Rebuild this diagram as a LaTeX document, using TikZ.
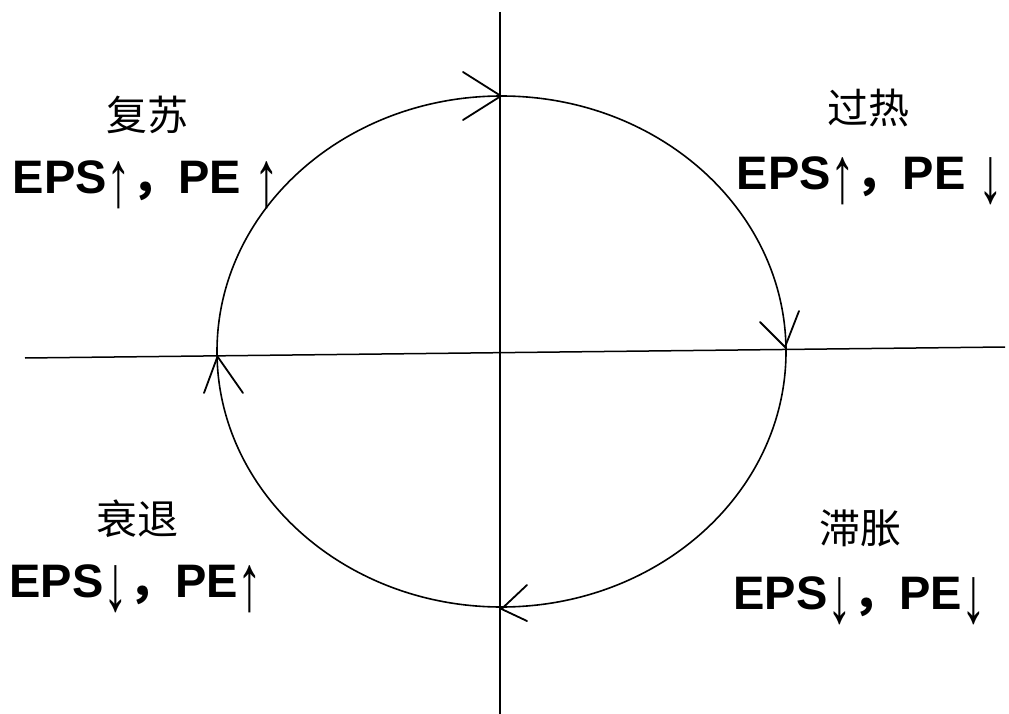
\documentclass[tikz,border=0pt]{standalone}
\usepackage{graphicx}
\usepackage{fontspec}
\setmainfont{Liberation Sans}
\newfontfamily\cjk{Noto Sans CJK SC}
\begin{document}
\begin{tikzpicture}[x=1pt,y=-1pt,
  axis/.style={line width=1.5pt,black},
  curve/.style={line width=1.6pt,black},
  chev/.style={line width=1.8pt,black,line cap=round,line join=miter},
  phase/.style={font=\cjk\fontsize{41}{45}\selectfont,inner sep=0pt},
  ratio/.style={font=\bfseries\fontsize{47}{52}\selectfont,inner sep=0pt,anchor=base}]
\useasboundingbox (0,0) rectangle (1009,714);
% axes
\coordinate (vt) at (500,12);
\coordinate (vb) at (500,714);
\coordinate (hl) at (25,358);
\coordinate (hr) at (1005,347);
\draw[axis] (vt) -- (vb);
\draw[axis] (hl) -- (hr);
% ellipse
\coordinate (c) at (501.5,351.5);
\draw[curve] (c) ellipse [x radius=284.5pt, y radius=255.5pt];
% chevron arrowheads
\coordinate (tT) at (501,96);
\coordinate (tA) at (463,72);
\coordinate (tB) at (463,120);
\draw[chev] (tA) -- (tT) -- (tB);
\coordinate (rT) at (785,347);
\coordinate (rA) at (760,322);
\coordinate (rB) at (799,311);
\draw[chev] (rA) -- (rT) -- (rB);
\coordinate (bT) at (501.5,609);
\coordinate (bA) at (527,585);
\coordinate (bB) at (527,621);
\draw[chev] (bA) -- (bT) -- (bB);
\coordinate (lT) at (217.5,356.5);
\coordinate (lA) at (204,393);
\coordinate (lB) at (243,393);
\draw[chev] (lA) -- (lT) -- (lB);
% labels
\newcommand{\up}{\raisebox{-13pt}{\scalebox{1.05}[1.7]{\mdseries ↑}}}
\newcommand{\dn}{\raisebox{-13pt}{\scalebox{1.05}[1.7]{\mdseries ↓}}}
\newcommand{\cm}{{\cjk ，}}
\node[phase] (p1) at (147,115) {复苏};
\node[ratio] (r1) at (146,194) {EPS\up\cm PE \up};
\node[phase] (p2) at (868,108) {过热};
\node[ratio] (r2) at (870,190) {EPS\up\cm PE \dn};
\node[phase] (p3) at (137,519) {衰退};
\node[ratio] (r3) at (136,597) {EPS\dn\cm PE\up};
\node[phase] (p4) at (860,528) {滞胀};
\node[ratio] (r4) at (860,609) {EPS\dn\cm PE\dn};
\end{tikzpicture}
\end{document}
